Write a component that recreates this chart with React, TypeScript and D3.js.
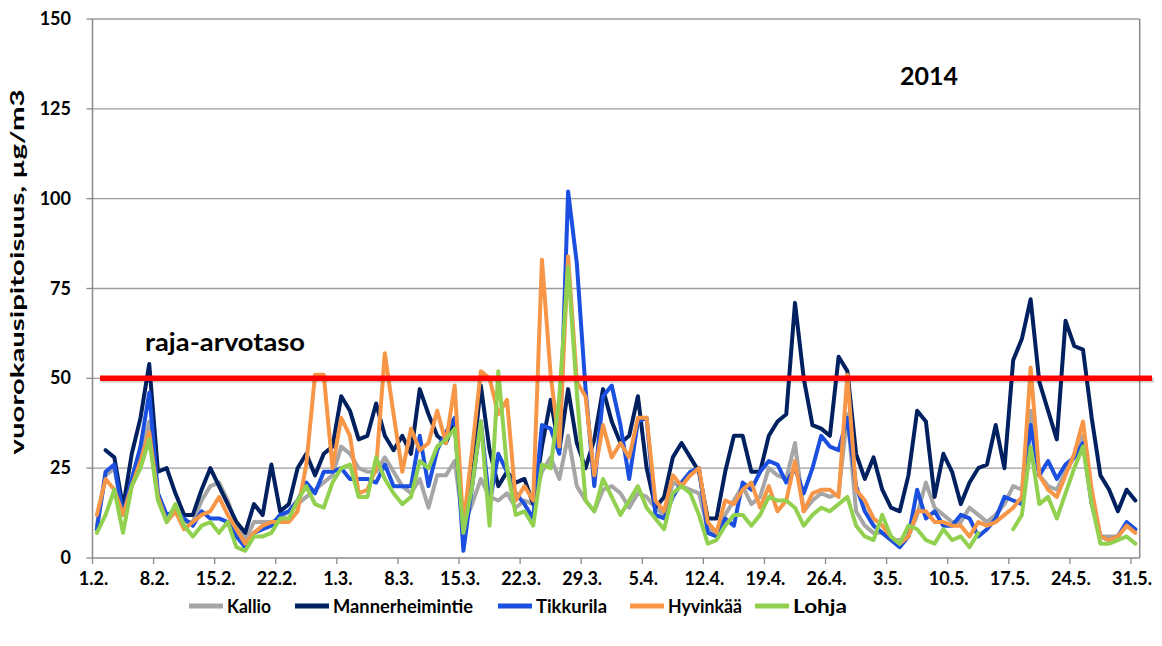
import React from "react";
import * as d3 from "d3";

const tickLabels = ["1.2.","8.2.","15.2.","22.2.","1.3.","8.3.","15.3.","22.3.","29.3.","5.4.","12.4.","19.4.","26.4.","3.5.","10.5.","17.5.","24.5.","31.5."];
const dayCount = 120;
const yTicks = [0, 25, 50, 75, 100, 125, 150];
const limitValue = 50;

const kallio = [9,23,25,12,21,28,38,18,11,14,10,10,16,20,21,16,9,5,10,10,10,11,13,15,17,19,21,23,31,29,25,24,24,28,24,20,18,22,14,23,23,27,9,15,22,17,16,18,14,16,15,24,28,22,34,20,16,13,19,20,18,14,18,17,14,12,21,20,19,18,8,7,12,16,20,15,17,25,23,22,32,13,16,18,17,18,40,13,9,7,7,5,5,6,12,21,14,12,10,10,14,12,10,12,15,20,19,41,23,20,19,24,28,34,17,6,6,6,9,8];
const mannerheimintie = [null,30,28,14,29,39,54,24,25,18,12,12,19,25,20,15,10,7,15,12,26,13,15,25,29,23,29,31,45,41,33,34,43,34,30,34,29,47,40,34,32,38,6,25,48,30,20,24,21,22,15,31,44,30,47,32,25,33,47,38,32,34,45,25,14,17,28,32,28,24,11,11,24,34,34,24,24,34,38,40,71,50,37,36,34,56,52,29,22,28,19,14,13,23,41,38,17,29,24,15,21,25,26,37,25,55,61,72,49,41,33,66,59,58,39,23,19,13,19,16];
const tikkurila = [8,24,26,12,22,31,46,18,12,13,11,9,13,11,11,10,6,3,7,8,9,12,13,16,21,18,24,24,25,22,22,22,21,26,20,20,20,34,20,30,35,39,2,20,38,15,29,24,18,15,11,37,36,29,102,82,47,20,45,48,37,22,38,39,12,11,17,21,24,25,7,6,11,9,21,19,24,27,26,21,25,18,25,34,31,30,39,20,13,9,7,5,3,6,19,11,13,9,9,12,11,6,8,11,17,16,15,37,23,27,22,26,28,32,15,6,5,6,10,8];
const hyvinkaa = [12,22,19,12,20,27,35,17,10,13,8,10,12,13,17,12,8,4,7,9,10,10,10,13,26,51,51,25,39,34,18,19,25,57,40,24,36,30,32,41,32,48,9,30,52,50,40,44,16,20,16,83,51,31,84,49,45,23,37,28,32,28,39,39,16,13,23,20,23,25,10,7,16,15,19,21,14,20,13,16,27,13,18,19,19,17,51,19,16,11,9,6,4,6,13,13,10,10,9,9,6,10,9,10,12,14,17,53,23,19,17,23,29,38,19,6,5,6,9,7];
const lohja = [7,12,19,7,20,25,33,16,10,15,9,6,9,10,7,10,3,2,6,6,7,11,11,16,20,15,14,21,25,26,17,17,28,22,18,15,17,27,25,31,33,36,7,20,38,9,52,25,12,13,9,26,25,45,81,46,16,13,22,17,12,16,20,14,11,8,18,20,18,12,4,5,9,12,12,9,12,17,16,16,14,9,12,14,13,15,17,9,6,5,12,6,4,9,8,5,4,8,5,6,3,7,null,null,null,8,12,31,15,17,11,18,25,31,15,4,4,5,6,4];

const seriesNames = ["Kallio", "Mannerheimintie", "Tikkurila", "Hyvinkää", "Lohja"];
const seriesValues = [kallio, mannerheimintie, tikkurila, hyvinkaa, lohja];
const seriesColors = ["#A6A6A6", "#002060", "#1A4FE0", "#F79646", "#92D050"];

const FONT = "Lato, 'Open Sans', sans-serif";

export default function App() {
  const W = 1162, H = 646;
  const left = 92.5, right = 1139.7, top = 19, bottom = 558;
  const x = d3.scaleLinear().domain([0, dayCount]).range([left, right]);
  const y = d3.scaleLinear().domain([0, 150]).range([bottom, top]);

  const line = d3.line<number | null>()
    .defined((d) => d !== null && d !== undefined)
    .x((_, i) => x(i + 0.5))
    .y((d) => y(d as number));

  const legendLineX = [189, 295, 498, 630, 755];
  const legendTextW = [44, 140, 71, 74, 54];

  return (
    <svg width={W} height={H} style={{ position: "absolute", left: 0, top: 0, background: "#fff" }}>
      <rect x={0} y={0} width={W} height={H} fill="#fff" />
      {/* gridlines */}
      {yTicks.filter((t) => t > 0).map((t) => (
        <line key={"g" + t} x1={left} x2={right} y1={y(t)} y2={y(t)} stroke="#9C9C9C" strokeWidth={1.3} />
      ))}
      {/* right border */}
      <line x1={right} x2={right} y1={top} y2={bottom} stroke="#8A8A8A" strokeWidth={1.5} />
      {/* axes */}
      <line x1={left} x2={left} y1={top} y2={bottom} stroke="#8A8A8A" strokeWidth={1.5} />
      <line x1={left} x2={right} y1={bottom} y2={bottom} stroke="#8A8A8A" strokeWidth={1.5} />
      {yTicks.map((t) => (
        <g key={"yt" + t}>
          <line x1={left - 6} x2={left} y1={y(t)} y2={y(t)} stroke="#8A8A8A" strokeWidth={1.3} />
          <text x={71} y={y(t) + 6} textAnchor="end" fontFamily={FONT} fontWeight="bold" fontSize={18} fill="#000">{t}</text>
        </g>
      ))}
      {tickLabels.map((lab, k) => (
        <g key={"xt" + k}>
          <line x1={x(k * 7)} x2={x(k * 7)} y1={bottom} y2={bottom + 6} stroke="#8A8A8A" strokeWidth={1.3} />
          <text x={x(k * 7) + 1} y={585} textAnchor="middle" fontFamily={FONT} fontWeight="bold" fontSize={18} fill="#000">{lab}</text>
        </g>
      ))}
      {/* y label */}
      <text transform="translate(24,272) rotate(-90)" textAnchor="middle" fontFamily={FONT} fontWeight="bold" fontSize={19}
        textLength={365} lengthAdjust="spacingAndGlyphs" fill="#000">vuorokausipitoisuus, µg/m3</text>
      {/* series */}
      {seriesValues.map((vals, si) => (
        <path key={seriesNames[si]} d={line(vals) || ""} fill="none" stroke={seriesColors[si]} strokeWidth={4} strokeLinejoin="round" strokeLinecap="round" />
      ))}
      {/* limit line */}
      <line x1={101} x2={1154} y1={y(limitValue) + 2} y2={y(limitValue) + 2} stroke="#000" strokeOpacity={0.18} strokeWidth={5} />
      <line x1={100} x2={1152} y1={y(limitValue)} y2={y(limitValue)} stroke="#FF0000" strokeWidth={5.5} />
      <text x={145} y={351} fontFamily={FONT} fontWeight="bold" fontSize={24} textLength={160} lengthAdjust="spacingAndGlyphs" fill="#000">raja-arvotaso</text>
      <text x={929} y={85} textAnchor="middle" fontFamily={FONT} fontWeight="bold" fontSize={25} fill="#000">2014</text>
      {/* legend */}
      {seriesNames.map((name, si) => (
        <g key={"lg" + si}>
          <line x1={legendLineX[si]} x2={legendLineX[si] + 34} y1={606} y2={606} stroke={seriesColors[si]} strokeWidth={5} />
          <text x={legendLineX[si] + 38} y={613} fontFamily={FONT} fontWeight="bold" fontSize={19} textLength={legendTextW[si]} lengthAdjust="spacingAndGlyphs" fill="#000">{name}</text>
        </g>
      ))}
    </svg>
  );
}
